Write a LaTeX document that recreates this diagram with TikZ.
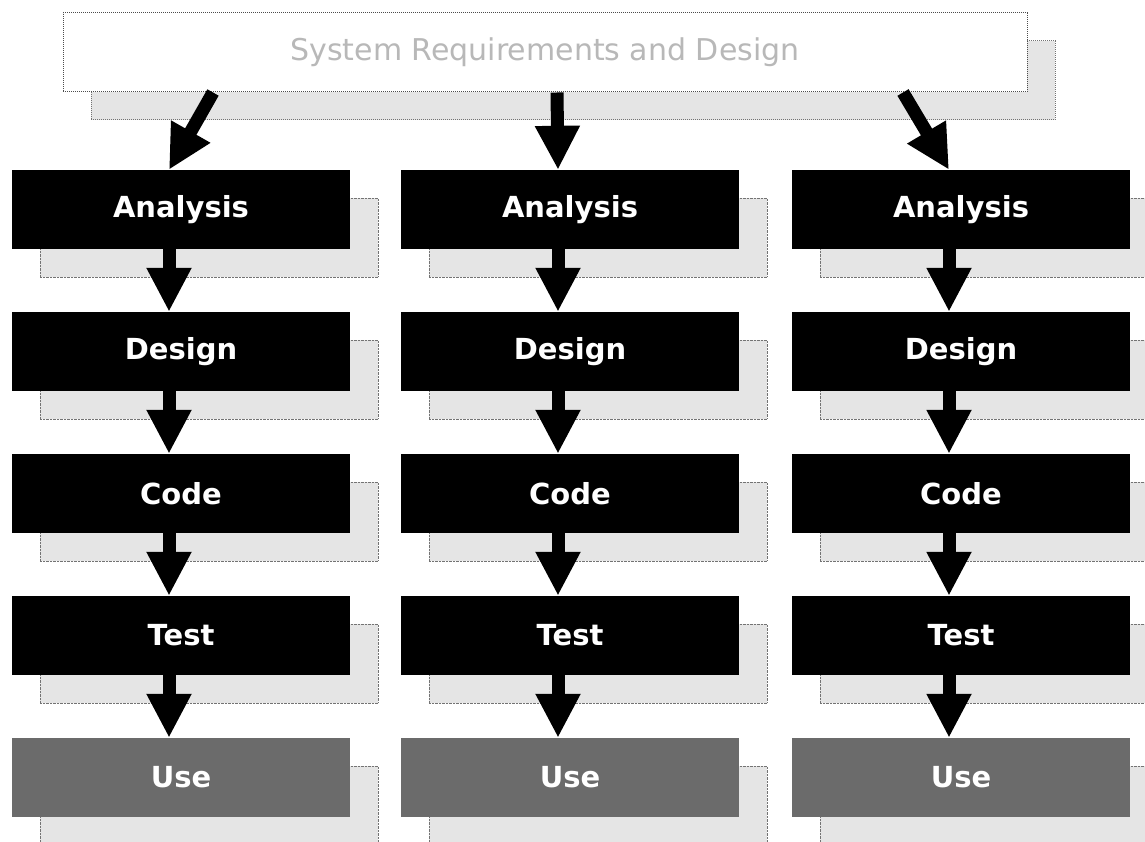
\documentclass[tikz,border=0pt]{standalone}
\usepackage{fontspec}
\newfontfamily\labelfont{DejaVu Sans}
\usetikzlibrary{arrows.meta, shadows}

\begin{document}
\begin{tikzpicture}[x=1pt, y=-1pt,
    phase/.style={fill=black, text=white, inner sep=0pt,
      font=\labelfont\bfseries\fontsize{29}{33}\selectfont,
      minimum width=338pt, minimum height=79pt,
      drop shadow={shadow xshift=28pt, shadow yshift=-28pt, opacity=1,
        fill=black!10, draw=black!55, densely dotted}},
    usephase/.style={phase, fill=black!58},
    bigarrow/.style={line width=13pt, -{Triangle[width=42pt, length=44pt]}}]
    % Frame
    \useasboundingbox (0,0) rectangle (1145,842);

    % System box
    \node[phase, fill=white, draw=black!70, densely dotted, line width=1pt, text=black!28,
      font=\labelfont\fontsize{30}{34}\selectfont, minimum width=964pt]
      (sysreq) at (545,52.5) {System Requirements and Design};

    % Column 1
    \node[phase] (ana1) at (181,209.5) {Analysis};
    \node[phase] (des1) at (181,351.5) {Design};
    \node[phase] (code1) at (181,493.5) {Code};
    \node[phase] (test1) at (181,635.5) {Test};
    \node[usephase] (use1) at (181,777.5) {Use};

    % Column 2
    \node[phase] (ana2) at (570,209.5) {Analysis};
    \node[phase] (des2) at (570,351.5) {Design};
    \node[phase] (code2) at (570,493.5) {Code};
    \node[phase] (test2) at (570,635.5) {Test};
    \node[usephase] (use2) at (570,777.5) {Use};

    % Column 3
    \node[phase] (ana3) at (961,209.5) {Analysis};
    \node[phase] (des3) at (961,351.5) {Design};
    \node[phase] (code3) at (961,493.5) {Code};
    \node[phase] (test3) at (961,635.5) {Test};
    \node[usephase] (use3) at (961,777.5) {Use};

    % Arrows from the system box
    \draw[bigarrow] ([xshift=-332pt]sysreq.south) -- ([xshift=-12pt]ana1.north);
    \draw[bigarrow] ([xshift=12pt]sysreq.south) -- ([xshift=-12pt]ana2.north);
    \draw[bigarrow] ([xshift=358pt]sysreq.south) -- ([xshift=-12pt]ana3.north);

    % Arrows down column 1
    \draw[bigarrow] ([xshift=-12pt]ana1.south) -- ([xshift=-12pt]des1.north);
    \draw[bigarrow] ([xshift=-12pt]des1.south) -- ([xshift=-12pt]code1.north);
    \draw[bigarrow] ([xshift=-12pt]code1.south) -- ([xshift=-12pt]test1.north);
    \draw[bigarrow] ([xshift=-12pt]test1.south) -- ([xshift=-12pt]use1.north);

    % Arrows down column 2
    \draw[bigarrow] ([xshift=-12pt]ana2.south) -- ([xshift=-12pt]des2.north);
    \draw[bigarrow] ([xshift=-12pt]des2.south) -- ([xshift=-12pt]code2.north);
    \draw[bigarrow] ([xshift=-12pt]code2.south) -- ([xshift=-12pt]test2.north);
    \draw[bigarrow] ([xshift=-12pt]test2.south) -- ([xshift=-12pt]use2.north);

    % Arrows down column 3
    \draw[bigarrow] ([xshift=-12pt]ana3.south) -- ([xshift=-12pt]des3.north);
    \draw[bigarrow] ([xshift=-12pt]des3.south) -- ([xshift=-12pt]code3.north);
    \draw[bigarrow] ([xshift=-12pt]code3.south) -- ([xshift=-12pt]test3.north);
    \draw[bigarrow] ([xshift=-12pt]test3.south) -- ([xshift=-12pt]use3.north);
\end{tikzpicture}
\end{document}
